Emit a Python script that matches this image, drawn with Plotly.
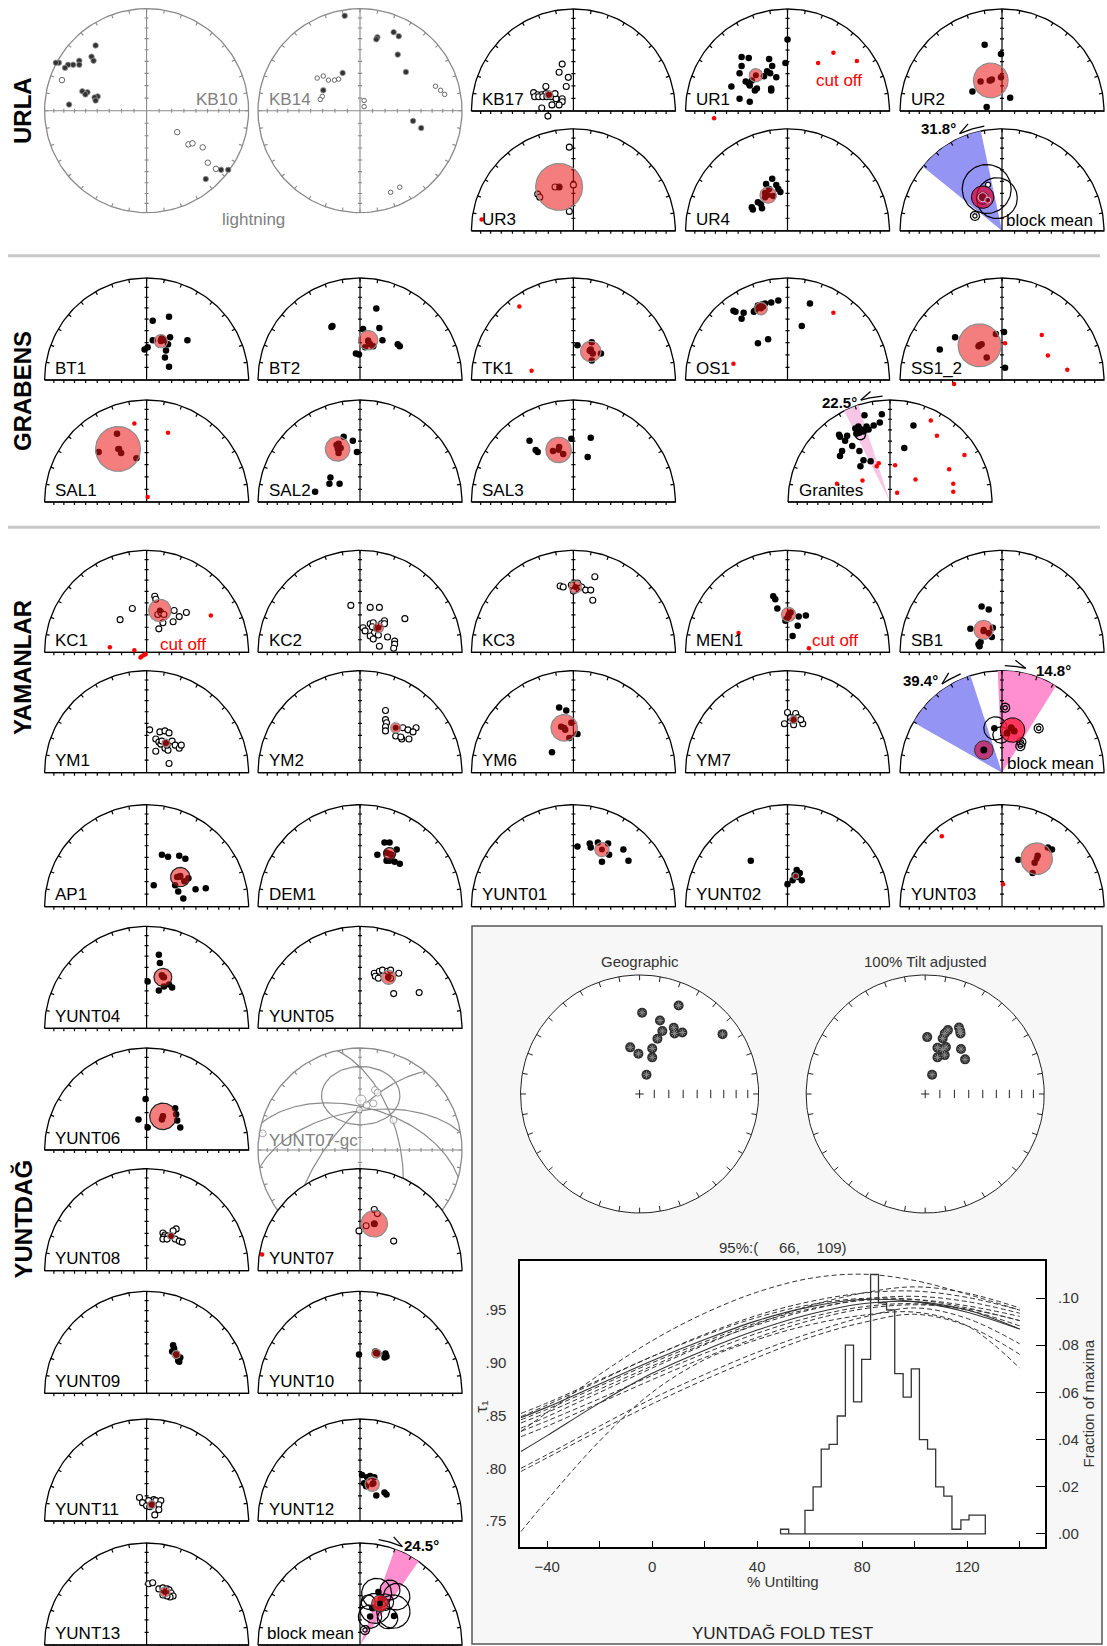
import numpy as np
import plotly.graph_objects as go

W, H = 1107, 1646
FONT = "Liberation Sans, Arial, Helvetica, sans-serif"

# ====================== DATA ======================
# positions on each equal-area net (u = east, v = north, net radius = 1)
# _f* filled (lower hemisphere), _o* open (upper), _r* rejected (red), _mean = (u, v, a95)

# ---------- URLA ----------
KB10_fu = [-0.50, -0.54, -0.52, -0.66, -0.66, -0.72, -0.77, -0.80, -0.86, -0.89, -0.63, -0.58, -0.60, -0.48, -0.51, -0.50, -0.76, 0.58, 0.73, 0.80]
KB10_fv = [0.64, 0.53, 0.49, 0.49, 0.45, 0.45, 0.45, 0.42, 0.47, 0.47, 0.19, 0.18, 0.16, 0.14, 0.13, 0.10, 0.06, -0.67, -0.58, -0.58]
KB10_ou = [-0.83, 0.30, 0.41, 0.45, 0.55, 0.60, 0.68]
KB10_ov = [0.30, -0.21, -0.33, -0.32, -0.36, -0.51, -0.57]
KB14_fu = [-0.15, 0.17, 0.16, 0.33, 0.38, 0.37, 0.45, -0.36, -0.17, 0.52, 0.60]
KB14_fv = [0.93, 0.72, 0.70, 0.77, 0.73, 0.55, 0.38, 0.20, 0.37, -0.10, -0.17]
KB14_ou = [-0.42, -0.36, -0.31, -0.25, -0.21, -0.37, -0.39, 0.04, 0.04, 0.74, 0.79, 0.83, 0.30, 0.39]
KB14_ov = [0.32, 0.34, 0.30, 0.30, 0.31, 0.14, 0.11, 0.10, 0.04, 0.24, 0.20, 0.16, -0.80, -0.75]

KB17_ou = [-0.11, -0.14, -0.05, -0.07, -0.27, -0.39, -0.35, -0.31, -0.27, -0.38, -0.34, -0.30, -0.26, -0.22, -0.17, -0.11, -0.11, -0.21, -0.31, -0.14, -0.25, -0.18]
KB17_ov = [0.46, 0.38, 0.33, 0.24, 0.24, 0.18, 0.16, 0.16, 0.17, 0.14, 0.14, 0.14, 0.14, 0.14, 0.12, 0.12, 0.09, 0.06, 0.03, 0.06, -0.05, 0.17]
KB17_mean = (-0.24, 0.16, 0.04)

UR1_fu = [0.00, -0.02, -0.45, -0.38, -0.18, -0.45, -0.15, -0.20, -0.17, -0.47, -0.11, -0.23, -0.35, -0.41, -0.38, -0.37, -0.55, -0.30, -0.32, -0.16, -0.16, -0.47, -0.37]
UR1_fv = [0.70, 0.47, 0.53, 0.52, 0.51, 0.44, 0.44, 0.39, 0.37, 0.37, 0.33, 0.34, 0.30, 0.29, 0.27, 0.25, 0.24, 0.22, 0.20, 0.22, 0.20, 0.12, 0.09]
UR1_ru = [0.45, 0.30, 0.68, -0.72]
UR1_rv = [0.57, 0.47, 0.49, -0.07]
UR1_mean = (-0.31, 0.35, 0.065)

UR2_fu = [-0.17, -0.01, -0.01, -0.21, -0.12, -0.10, -0.29, 0.08, -0.15]
UR2_fv = [0.65, 0.56, 0.33, 0.29, 0.30, 0.31, 0.19, 0.13, 0.04]
UR2_mean = (-0.11, 0.30, 0.17)

UR3_ou = [-0.04, 0.00, -0.14, -0.18, -0.35, -0.33, -0.04]
UR3_ov = [0.82, 0.45, 0.43, 0.43, 0.36, 0.33, 0.19]
UR3_ru = [-0.90]
UR3_rv = [0.11]
UR3_mean = (-0.14, 0.43, 0.23)

UR4_fu = [-0.15, -0.21, -0.11, -0.18, -0.09, -0.22, -0.07, -0.14, -0.22, -0.29, -0.26, -0.35, -0.34, -0.25]
UR4_fv = [0.51, 0.46, 0.45, 0.41, 0.41, 0.37, 0.38, 0.34, 0.33, 0.28, 0.26, 0.23, 0.21, 0.22]
UR4_mean = (-0.19, 0.35, 0.08)

URLA_rot = (-51.0, -12.0)
URLA_circ = [(-0.15, 0.41, 0.24), (-0.05, 0.32, 0.20)]
URLA_bull = [(-0.265, 0.146)]
URLA_mean = (-0.19, 0.33, 0.11)

# ---------- GRABENS ----------
BT1_fu = [0.22, 0.06, 0.23, 0.40, 0.06, 0.14, 0.15, 0.17, 0.21, 0.01, -0.02, 0.19, 0.18, 0.22]
BT1_fv = [0.62, 0.58, 0.42, 0.39, 0.39, 0.39, 0.41, 0.39, 0.35, 0.32, 0.30, 0.29, 0.22, 0.13]
BT1_mean = (0.14, 0.38, 0.065)
BT2_fu = [0.16, -0.28, -0.27, 0.03, 0.19, 0.22, 0.37, 0.39, -0.04, -0.01, 0.05, 0.08, 0.10, 0.13]
BT2_fv = [0.70, 0.52, 0.53, 0.50, 0.51, 0.39, 0.35, 0.33, 0.26, 0.25, 0.32, 0.38, 0.35, 0.33]
BT2_mean = (0.08, 0.39, 0.095)
TK1_fu = [0.04, 0.18, 0.16, 0.19, 0.27, 0.18, 0.17]
TK1_fv = [0.34, 0.37, 0.29, 0.26, 0.26, 0.19, 0.30]
TK1_ru = [-0.53, -0.41]
TK1_rv = [0.72, 0.09]
TK1_mean = (0.17, 0.28, 0.10)
OS1_fu = [-0.09, -0.16, -0.25, -0.27, -0.29, -0.30, -0.32, -0.33, -0.22, -0.24, -0.43, -0.45, -0.51, -0.53, -0.29, -0.19, 0.22, 0.14]
OS1_fv = [0.78, 0.76, 0.74, 0.72, 0.73, 0.70, 0.68, 0.67, 0.75, 0.72, 0.66, 0.60, 0.67, 0.68, 0.36, 0.40, 0.75, 0.53]
OS1_ru = [0.45, -0.53]
OS1_rv = [0.66, 0.16]
OS1_mean = (-0.26, 0.70, 0.062)
SS1_fu = [-0.46, -0.61, 0.02, -0.06, 0.03, -0.15, -0.22, -0.20, -0.23]
SS1_fv = [0.42, 0.30, 0.47, 0.45, 0.12, 0.22, 0.34, 0.35, 0.33]
SS1_ru = [0.03, 0.39, 0.45, 0.64, -0.47]
SS1_rv = [0.36, 0.44, 0.24, 0.10, -0.04]
SS1_mean = (-0.22, 0.34, 0.21)
SAL1_fu = [-0.29, -0.47, -0.27, -0.25, -0.10]
SAL1_fv = [0.67, 0.49, 0.52, 0.48, 0.43]
SAL1_ru = [-0.12, 0.21, 0.01]
SAL1_rv = [0.77, 0.68, 0.05]
SAL1_mean = (-0.28, 0.52, 0.22)
SAL2_fu = [-0.16, -0.07, -0.23, -0.21, -0.19, -0.21, -0.03, -0.30, -0.29, -0.20, -0.44]
SAL2_fv = [0.64, 0.60, 0.56, 0.57, 0.53, 0.48, 0.49, 0.18, 0.24, 0.18, 0.10]
SAL2_mean = (-0.22, 0.52, 0.12)
SAL3_fu = [-0.43, -0.37, -0.35, -0.02, 0.17, 0.14, -0.20, -0.10, -0.14]
SAL3_fv = [0.60, 0.51, 0.49, 0.62, 0.63, 0.44, 0.50, 0.47, 0.54]
SAL3_mean = (-0.145, 0.51, 0.125)
GRAN_fu = [-0.25, -0.08, -0.10, -0.16, 0.23, 0.14, -0.50, -0.49, -0.42, -0.44, -0.37, -0.47, -0.49, -0.30, -0.26, -0.19, -0.29, -0.34, -0.31, -0.28, -0.26, -0.23, -0.33, -0.21, -0.30, -0.25]
GRAN_fv = [0.85, 0.86, 0.78, 0.75, 0.75, 0.53, 0.66, 0.64, 0.65, 0.60, 0.55, 0.50, 0.45, 0.50, 0.41, 0.40, 0.35, 0.72, 0.74, 0.71, 0.69, 0.74, 0.67, 0.71, 0.68, 0.70]
GRAN_ru = [0.40, 0.46, 0.73, -0.11, -0.13, 0.05, -0.52, 0.07, 0.62, 0.62, 0.58, 0.25, -0.27]
GRAN_rv = [0.80, 0.65, 0.46, 0.38, 0.35, 0.36, 0.18, 0.09, 0.18, 0.10, 0.32, 0.22, 0.21]
GRAN_mean = (-0.29, 0.66, 0.05)
GRAN_rot = (-27.0, -18.0)

# ---------- YAMANLAR ----------
KC1_ou = [0.08, 0.09, -0.14, -0.26, 0.27, 0.32, 0.39, 0.26, 0.16, 0.12, 0.11, 0.14, 0.17]
KC1_ov = [0.55, 0.52, 0.43, 0.32, 0.41, 0.35, 0.39, 0.30, 0.29, 0.23, 0.37, 0.39, 0.37]
KC1_ru = [0.63, -0.36, -0.12, -0.05, -0.03, -0.01, -0.06]
KC1_rv = [0.36, 0.05, 0.02, -0.04, -0.03, -0.02, -0.05]
KC1_mean = (0.13, 0.41, 0.11)
KC2_ou = [-0.09, 0.10, 0.19, 0.44, 0.24, 0.21, 0.10, 0.13, 0.12, 0.03, 0.05, 0.14, 0.10, 0.13, 0.18, 0.27, 0.19, 0.34, 0.34, 0.33, 0.24]
KC2_ov = [0.46, 0.44, 0.44, 0.33, 0.31, 0.28, 0.28, 0.29, 0.25, 0.24, 0.21, 0.19, 0.16, 0.13, 0.17, 0.15, 0.06, 0.11, 0.08, 0.04, 0.28]
KC2_mean = (0.18, 0.24, 0.05)
KC3_ou = [-0.13, -0.10, -0.02, 0.02, 0.05, 0.08, 0.12, 0.17, 0.21, 0.19, 0.00, 0.04]
KC3_ov = [0.65, 0.64, 0.66, 0.62, 0.66, 0.64, 0.61, 0.61, 0.74, 0.51, 0.60, 0.68]
KC3_mean = (0.02, 0.64, 0.06)
MEN1_fu = [-0.14, -0.12, -0.10, 0.03, 0.01, -0.01, -0.02, 0.11, 0.18, 0.10, 0.05]
MEN1_fv = [0.55, 0.52, 0.43, 0.39, 0.35, 0.33, 0.31, 0.35, 0.36, 0.26, 0.16]
MEN1_ru = [-0.48, 0.21]
MEN1_rv = [0.19, 0.04]
MEN1_mean = (0.01, 0.37, 0.07)
SB1_fu = [-0.20, -0.13, -0.31, -0.09, -0.10, -0.18, -0.13, -0.21, -0.23, -0.22]
SB1_fv = [0.45, 0.42, 0.23, 0.24, 0.15, 0.21, 0.19, 0.10, 0.08, 0.06]
SB1_mean = (-0.18, 0.22, 0.094)
YM1_ou = [0.03, 0.13, 0.18, 0.22, 0.09, 0.12, 0.14, 0.25, 0.28, 0.32, 0.34, 0.09, 0.18, 0.21, 0.22, 0.15, 0.20]
YM1_ov = [0.42, 0.40, 0.41, 0.39, 0.33, 0.30, 0.28, 0.31, 0.27, 0.24, 0.27, 0.21, 0.24, 0.22, 0.09, 0.31, 0.27]
YM1_mean = (0.19, 0.29, 0.04)
YM2_ou = [0.25, 0.25, 0.26, 0.25, 0.25, 0.42, 0.47, 0.55, 0.52, 0.48, 0.41, 0.35, 0.40]
YM2_ov = [0.61, 0.52, 0.49, 0.45, 0.41, 0.44, 0.42, 0.44, 0.40, 0.33, 0.33, 0.36, 0.35]
YM2_mean = (0.35, 0.44, 0.05)
YM6_fu = [-0.14, -0.07, -0.02, 0.04, -0.04, -0.21, -0.12, -0.08]
YM6_fv = [0.64, 0.61, 0.49, 0.38, 0.34, 0.20, 0.45, 0.42]
YM6_mean = (-0.09, 0.44, 0.13)
YM7_ou = [0.00, 0.08, 0.10, -0.03, 0.06, 0.15, 0.13, 0.03]
YM7_ov = [0.59, 0.58, 0.54, 0.48, 0.47, 0.48, 0.52, 0.54]
YM7_mean = (0.06, 0.52, 0.04)
YAM_rotA = (-60.4, -18.0)
YAM_rotB = (-2.4, 31.9)
YAM_circ = [(-0.065, 0.435, 0.113), (-0.01, 0.37, 0.08)]
YAM_bull = [(0.031, 0.637), (0.36, 0.435), (0.18, 0.26), (0.19, 0.30)]
YAM_mean_a = (0.103, 0.418, 0.12)
YAM_mean_b = (-0.178, 0.222, 0.092)

# ---------- YUNTDAG ----------
AP1_fu = [0.15, 0.21, 0.32, 0.38, 0.07, 0.28, 0.31, 0.36, 0.48, 0.58, 0.30, 0.33, 0.37, 0.41]
AP1_fv = [0.51, 0.49, 0.50, 0.47, 0.21, 0.21, 0.15, 0.08, 0.17, 0.18, 0.29, 0.30, 0.25, 0.28]
AP1_mean = (0.33, 0.29, 0.095)
DEM1_fu = [0.24, 0.29, 0.17, 0.36, 0.26, 0.29, 0.34, 0.39, 0.26, 0.31]
DEM1_fv = [0.63, 0.63, 0.51, 0.56, 0.45, 0.45, 0.44, 0.42, 0.53, 0.51]
DEM1_mean = (0.29, 0.52, 0.06)
Y01_fu = [0.04, 0.16, 0.24, 0.34, 0.49, 0.54, 0.28, 0.35, 0.17]
Y01_fv = [0.59, 0.62, 0.63, 0.62, 0.56, 0.45, 0.44, 0.51, 0.58]
Y01_mean = (0.28, 0.56, 0.07)
Y02_fu = [-0.36, 0.09, 0.12, 0.07, 0.10, 0.14, 0.05, 0.00]
Y02_fv = [0.45, 0.36, 0.33, 0.31, 0.29, 0.26, 0.26, 0.22]
Y02_mean = (0.08, 0.30, 0.03)
Y03_fu = [0.49, 0.45, 0.16, 0.35, 0.32, 0.30]
Y03_fv = [0.56, 0.58, 0.46, 0.50, 0.43, 0.33]
Y03_ru = [-0.59, 0.01]
Y03_rv = [0.69, 0.22]
Y03_mean = (0.34, 0.47, 0.155)
Y04_fu = [0.12, 0.13, 0.01, 0.12, 0.17, 0.25, 0.22, 0.15, 0.17]
Y04_fv = [0.72, 0.64, 0.46, 0.37, 0.41, 0.40, 0.43, 0.52, 0.50]
Y04_mean = (0.16, 0.50, 0.088)
Y05_ou = [0.14, 0.19, 0.22, 0.27, 0.30, 0.38, 0.15, 0.18, 0.33, 0.58, 0.28, 0.30]
Y05_ov = [0.54, 0.56, 0.57, 0.56, 0.57, 0.54, 0.51, 0.49, 0.34, 0.35, 0.50, 0.49]
Y05_mean = (0.28, 0.50, 0.07)
Y06_fu = [-0.01, -0.08, 0.01, 0.28, 0.29, 0.30, 0.33, 0.16, 0.15]
Y06_fv = [0.50, 0.30, 0.22, 0.41, 0.35, 0.29, 0.22, 0.33, 0.30]
Y06_mean = (0.16, 0.33, 0.13)
GC_ou = [0.01, 0.065, 0.13, 0.147, 0.173, -0.007, 0.327, -0.954]
GC_ov = [0.49, 0.44, 0.457, 0.588, 0.562, 0.392, 0.294, 0.163]
GC_small = (0.007, 0.533, 0.384, 0.286)
GC_planes = [((-74.5, 0.0), (0.0, 54.6)), ((39.7, 0.0), (0.0, 56.5)),
             ((-13.0, 0.0), (48.0, 54.4)), ((80.0, 0.0), (20.0, 55.0))]
Y07_ou = [0.14, 0.17, 0.06, 0.14, -0.01, 0.33]
Y07_ov = [0.60, 0.56, 0.44, 0.46, 0.39, 0.29]
Y07_ru = [-0.96]
Y07_rv = [0.16]
Y07_mean = (0.14, 0.46, 0.13)
Y08_ou = [0.29, 0.26, 0.16, 0.18, 0.17, 0.16, 0.21, 0.28, 0.32, 0.35, 0.20]
Y08_ov = [0.41, 0.39, 0.37, 0.35, 0.33, 0.31, 0.34, 0.31, 0.29, 0.28, 0.31]
Y08_mean = (0.24, 0.34, 0.035)
Y09_fu = [0.26, 0.27, 0.25, 0.29, 0.30, 0.33, 0.31, 0.32]
Y09_fv = [0.47, 0.44, 0.41, 0.39, 0.36, 0.35, 0.32, 0.31]
Y09_mean = (0.29, 0.38, 0.04)
Y10_fu = [-0.01, 0.15, 0.18, 0.25, 0.26, 0.24, 0.16]
Y10_fv = [0.38, 0.41, 0.39, 0.39, 0.36, 0.35, 0.40]
Y10_mean = (0.16, 0.39, 0.045)
Y11_ou = [-0.07, -0.04, 0.00, 0.07, 0.09, 0.14, 0.12, 0.12, 0.08, 0.02, 0.03]
Y11_ov = [0.23, 0.18, 0.15, 0.21, 0.20, 0.20, 0.16, 0.11, 0.06, 0.20, 0.14]
Y11_mean = (0.05, 0.16, 0.04)
Y12_fu = [0.02, 0.07, 0.10, 0.14, 0.04, 0.06, 0.16, 0.24, 0.26, 0.13]
Y12_fv = [0.45, 0.43, 0.44, 0.43, 0.37, 0.34, 0.25, 0.28, 0.26, 0.37]
Y12_mean = (0.12, 0.36, 0.07)
Y13_ou = [0.02, 0.06, 0.12, 0.16, 0.20, 0.22, 0.24, 0.26, 0.23, 0.20, 0.16]
Y13_ov = [0.60, 0.61, 0.55, 0.56, 0.55, 0.54, 0.51, 0.48, 0.47, 0.48, 0.49]
Y13_mean = (0.18, 0.52, 0.05)
YUNT_rot = (20.0, 35.0)
YUNT_circ = [(0.163, 0.507, 0.147), (0.147, 0.359, 0.147), (0.359, 0.474, 0.13), (0.327, 0.327, 0.163),
             (0.098, 0.278, 0.114), (0.294, 0.539, 0.098), (0.25, 0.42, 0.08), (0.08, 0.42, 0.07), (0.27, 0.26, 0.10)]
YUNT_dots_u = [0.333, 0.22, 0.12, 0.10, 0.18]
YUNT_dots_v = [0.284, 0.45, 0.36, 0.28, 0.52]
YUNT_bull = [(0.049, 0.147)]
YUNT_mean = (0.196, 0.408, 0.082)

# ---------- FOLD TEST ----------
GEO_u = [0.021, 0.328, 0.171, 0.191, 0.287, 0.294, 0.359, 0.697, 0.150, -0.079, 0.106, -0.010, 0.106, 0.058]
GEO_v = [0.683, 0.744, 0.618, 0.529, 0.557, 0.509, 0.517, 0.503, 0.464, 0.392, 0.383, 0.338, 0.308, 0.162]
TILT_u = [0.017, 0.147, 0.164, 0.191, 0.284, 0.297, 0.294, 0.103, 0.144, 0.174, 0.103, 0.164, 0.301, 0.335, 0.058]
TILT_v = [0.478, 0.467, 0.509, 0.537, 0.559, 0.509, 0.529, 0.389, 0.375, 0.394, 0.308, 0.327, 0.378, 0.291, 0.162]
UNTILT = [-50, -40, -20, 0, 20, 40, 60, 80, 100, 120, 140]
TAU_SOLID = [
    [.848, .858, .880, .902, .922, .940, .953, .960, .958, .948, .932],
    [.816, .831, .862, .890, .912, .931, .946, .956, .958, .950, .932],
]
TAU_DASH = [
    [.835, .853, .889, .921, .947, .967, .980, .984, .978, .965, .950],
    [.849, .860, .883, .906, .926, .943, .955, .961, .960, .952, .940],
    [.846, .856, .878, .900, .920, .938, .951, .959, .960, .954, .944],
    [.852, .862, .884, .906, .927, .945, .958, .966, .968, .962, .950],
    [.843, .853, .875, .897, .918, .936, .950, .960, .963, .958, .947],
    [.838, .849, .872, .895, .917, .937, .954, .966, .972, .966, .952],
    [.835, .845, .866, .888, .909, .928, .943, .953, .956, .950, .935],
    [.830, .840, .862, .884, .905, .924, .940, .951, .955, .951, .940],
    [.800, .813, .840, .866, .889, .910, .928, .943, .952, .942, .918],
    [.797, .810, .836, .861, .884, .905, .924, .938, .946, .935, .908],
    [.740, .770, .826, .872, .903, .922, .936, .945, .948, .935, .895],
]
HIST_EDGES = [48.9, 52.0, 55.1, 58.2, 61.3, 64.4, 67.4, 70.5, 73.6, 76.7, 79.8, 83.2, 86.2,
              89.3, 92.4, 95.6, 98.7, 101.8, 104.9, 108.0, 111.1, 114.2, 117.6, 120.7, 123.8, 126.9]
HIST_FRAC = [0.002, 0, 0, 0.010, 0.020, 0.036, 0.038, 0.050, 0.080, 0.056, 0.074, 0.110, 0.098,
             0.095, 0.068, 0.058, 0.070, 0.040, 0.036, 0.020, 0.016, 0.002, 0.006, 0.008, 0.008]
X_TICKS = [-40, 0, 40, 80, 120]
X_TICKTEXT = ['\u221240', '0', '40', '80', '120']
TAU_TICKS = [0.75, 0.80, 0.85, 0.90, 0.95]
TAU_TICKTEXT = ['.75', '.80', '.85', '.90', '.95']
FRAC_TICKS = [0.0, 0.02, 0.04, 0.06, 0.08, 0.10]
FRAC_TICKTEXT = ['.00', '.02', '.04', '.06', '.08', '.10']

# ====================== LAYOUT GEOMETRY (pixels) ======================
R = 102
COL = [146.6, 360.0, 573.4, 787.5, 1002.0]
ROW_URLA = [111.0, 230.8]
ROW_GRAB = [380.0, 502.0]
ROW_YAM = [652.3, 772.7]
ROW_YUNT = [906.7, 1028.3, 1150.0, 1270.7, 1393.3, 1521.0, 1645.0]
EA = [float(np.sqrt(1 - np.sin(np.radians(i)))) for i in range(10, 90, 10)]

fig = go.Figure()
ANN = []
SHAPES = []
_n = [0]


def add_axes(cx, cy, RR, up=1.15, down=0.2, side=1.15):
    _n[0] += 1
    n = _n[0]
    s = '' if n == 1 else str(n)
    px0 = max(0.0, cx - side * RR); px1 = min(W, cx + side * RR)
    py0 = max(0.0, cy - up * RR); py1 = min(H, cy + down * RR)
    fig.layout['xaxis' + s] = dict(domain=[px0 / W, px1 / W], range=[(px0 - cx) / RR, (px1 - cx) / RR],
                                   visible=False, fixedrange=True, anchor='y' + s)
    fig.layout['yaxis' + s] = dict(domain=[1 - py1 / H, 1 - py0 / H], range=[-(py1 - cy) / RR, (cy - py0) / RR],
                                   visible=False, fixedrange=True, anchor='x' + s)
    return 'x' + s, 'y' + s


def sc(xa, ya, x, y, **kw):
    fig.add_trace(go.Scatter(x=list(x), y=list(y), xaxis=xa, yaxis=ya, showlegend=False,
                             hoverinfo='skip', cliponaxis=False, **kw))


def text(xa, ya, x, y, s, size=17, color='black', xanchor='left', yanchor='middle', angle=0):
    ANN.append(dict(xref=xa, yref=ya, x=x, y=y, text=s, showarrow=False, xanchor=xanchor,
                    yanchor=yanchor, textangle=angle, font=dict(family=FONT, size=size, color=color)))


def ptext(px, py, s, **kw):
    text('paper', 'paper', px / W, 1 - py / H, s, **kw)


def wedge(xa, ya, a0, a1, color):
    t = np.radians(np.linspace(a0, a1, 40))
    sc(xa, ya, [0] + list(np.sin(t)) + [0], [0] + list(np.cos(t)) + [0], mode='lines',
       fill='toself', fillcolor=color, line=dict(width=0))


def semi_frame(xa, ya, wedges=()):
    t = np.radians(np.linspace(-90, 90, 121))
    sc(xa, ya, list(np.sin(t)) + [-1.0], list(np.cos(t)) + [0.0], mode='lines', fill='toself',
       fillcolor='white', line=dict(color='black', width=1.3))
    for w in wedges:
        wedge(xa, ya, *w)
    tx, ty = [0, 0, None, -1, 1, None], [0, 1, None, 0, 0, None]
    for a in range(-80, 90, 10):
        ar = np.radians(a)
        tx += [np.sin(ar), 0.965 * np.sin(ar), None]; ty += [np.cos(ar), 0.965 * np.cos(ar), None]
    for r in EA:
        for s in (-1, 1):
            tx += [s * r, s * r, None]; ty += [0, -0.03, None]
        tx += [-0.02, 0.02, None]; ty += [r, r, None]
    sc(xa, ya, tx, ty, mode='lines', line=dict(color='black', width=1.2))


def full_frame(xa, ya, color):
    t = np.radians(np.linspace(0, 360, 181))
    sc(xa, ya, np.sin(t), np.cos(t), mode='lines', fill='toself', fillcolor='white',
       line=dict(color=color, width=1.3))
    tx, ty = [-1, 1, None, 0, 0, None], [0, 0, None, -1, 1, None]
    for a in range(0, 360, 10):
        ar = np.radians(a)
        tx += [np.sin(ar), 0.965 * np.sin(ar), None]; ty += [np.cos(ar), 0.965 * np.cos(ar), None]
    for r in EA:
        for s in (-1, 1):
            tx += [s * r, s * r, None]; ty += [-0.02, 0.02, None]
            tx += [-0.02, 0.02, None]; ty += [s * r, s * r, None]
    sc(xa, ya, tx, ty, mode='lines', line=dict(color=color, width=1.1))


def pts(xa, ya, u, v, kind, size=None):
    if kind == 'f':
        m = dict(symbol='circle', size=size or 6.5, color='black', line=dict(width=0))
    elif kind == 'o':
        m = dict(symbol='circle', size=size or 6, color='white', line=dict(width=1.1, color='black'))
    else:
        m = dict(symbol='circle', size=size or 4.5, color='#ff0000', line=dict(width=0))
    sc(xa, ya, u, v, mode='markers', marker=m)


def ring(u, v, rx, ry=None, n=72):
    t = np.linspace(0, 2 * np.pi, n)
    return u + rx * np.cos(t), v + (ry if ry is not None else rx) * np.sin(t)


def a95(xa, ya, mean, line='#8c8c8c', fill='rgba(235,20,20,0.55)', lw=1.2):
    x, y = ring(*mean)
    sc(xa, ya, x, y, mode='lines', fill='toself', fillcolor=fill, line=dict(color=line, width=lw))


def open_ring(xa, ya, u, v, r, color='black', lw=1.2):
    x, y = ring(u, v, r)
    sc(xa, ya, x, y, mode='lines', line=dict(color=color, width=lw))


def site(cx, by, label, f=None, o=None, red=None, mean=None, mline='#8c8c8c', cut=None):
    xa, ya = add_axes(cx, by, R)
    semi_frame(xa, ya)
    if f:
        pts(xa, ya, f[0], f[1], 'f')
    if o:
        pts(xa, ya, o[0], o[1], 'o')
    if mean:
        pts(xa, ya, [mean[0]], [mean[1]], 'f', size=6)
        a95(xa, ya, mean, line=mline)
    if red:
        pts(xa, ya, red[0], red[1], 'r')
    text(xa, ya, -0.915, 0.115, label)
    if cut:
        text(xa, ya, cut[0], cut[1], 'cut off', color='#ff0000', xanchor='center')
    return xa, ya


def arc_arrow(xa, ya, r, a0, a1):
    t = np.radians(np.linspace(a0, a1, 20))
    x = list(r * np.sin(t)); y = list(r * np.cos(t))
    d = 1 if a1 > a0 else -1
    b = np.radians(a1 - d * 6)
    x += [None, r * np.sin(np.radians(a1)), (r + 0.06) * np.sin(b)]
    y += [None, r * np.cos(np.radians(a1)), (r + 0.06) * np.cos(b)]
    sc(xa, ya, x, y, mode='lines', line=dict(color='black', width=1.3))


def bull(xa, ya, u, v):
    open_ring(xa, ya, u, v, 0.045)
    open_ring(xa, ya, u, v, 0.022)


# ====================== URLA ======================
for (cx, name, fu, fv, ou, ov, side) in [(COL[0], 'KB10', KB10_fu, KB10_fv, KB10_ou, KB10_ov, 'r'),
                                         (COL[1], 'KB14', KB14_fu, KB14_fv, KB14_ou, KB14_ov, 'l')]:
    xa, ya = add_axes(cx, 110.7, R, up=1.15, down=1.15, side=1.08)
    full_frame(xa, ya, '#8a8a8a')
    sc(xa, ya, ou, ov, mode='markers', marker=dict(symbol='circle', size=5.5 if name == 'KB10' else 4.5,
                                                      color='white', line=dict(width=1, color='#666')))
    sc(xa, ya, fu, fv, mode='markers', marker=dict(symbol='circle', size=5.5, color='#333',
                                                      line=dict(width=0.8, color='#999')))
    if side == 'r':
        text(xa, ya, 0.915, 0.105, name, color='#808080', xanchor='right')
        text(xa, ya, 1.045, -1.07, 'lightning', color='#808080', xanchor='center')
    else:
        text(xa, ya, -0.915, 0.105, name, color='#808080')

site(COL[2], ROW_URLA[0], 'KB17', o=(KB17_ou, KB17_ov), mean=KB17_mean)
site(COL[3], ROW_URLA[0], 'UR1', f=(UR1_fu, UR1_fv), red=(UR1_ru, UR1_rv), mean=UR1_mean, cut=(0.50, 0.30))
site(COL[4], ROW_URLA[0], 'UR2', f=(UR2_fu, UR2_fv), mean=UR2_mean)
site(COL[2], ROW_URLA[1], 'UR3', o=(UR3_ou, UR3_ov), red=(UR3_ru, UR3_rv), mean=UR3_mean)
site(COL[3], ROW_URLA[1], 'UR4', f=(UR4_fu, UR4_fv), mean=UR4_mean)

xa, ya = add_axes(COL[4], ROW_URLA[1], R, up=1.2)
semi_frame(xa, ya, wedges=[(URLA_rot[0], URLA_rot[1], '#9494f5')])
for c in URLA_circ:
    open_ring(xa, ya, *c)
for b in URLA_bull:
    bull(xa, ya, *b)
pts(xa, ya, [-0.137], [0.451], 'o', size=5)
a95(xa, ya, URLA_mean, line='black', fill='rgba(215,10,60,0.75)', lw=1)
open_ring(xa, ya, URLA_mean[0], URLA_mean[1] - 0.01, 0.06, color='#700018', lw=1)
sc(xa, ya, [URLA_mean[0], URLA_mean[0] + 0.05], [URLA_mean[1], URLA_mean[1] - 0.03], mode='markers',
   marker=dict(size=[9, 6], color='#6a0010'))
arc_arrow(xa, ya, 1.04, -9.6, -23.6)
text(xa, ya, -0.62, 1.0, '<b>31.8\u00b0</b>', size=15, xanchor='center')
text(xa, ya, 0.915, 0.10, 'block mean', xanchor='right')

# ====================== GRABENS ======================
site(COL[0], ROW_GRAB[0], 'BT1', f=(BT1_fu, BT1_fv), mean=BT1_mean)
site(COL[1], ROW_GRAB[0], 'BT2', f=(BT2_fu, BT2_fv), mean=BT2_mean)
site(COL[2], ROW_GRAB[0], 'TK1', f=(TK1_fu, TK1_fv), red=(TK1_ru, TK1_rv), mean=TK1_mean)
site(COL[3], ROW_GRAB[0], 'OS1', f=(OS1_fu, OS1_fv), red=(OS1_ru, OS1_rv), mean=OS1_mean)
site(COL[4], ROW_GRAB[0], 'SS1_2', f=(SS1_fu, SS1_fv), red=(SS1_ru, SS1_rv), mean=SS1_mean)
site(COL[0], ROW_GRAB[1], 'SAL1', f=(SAL1_fu, SAL1_fv), red=(SAL1_ru, SAL1_rv), mean=SAL1_mean)
site(COL[1], ROW_GRAB[1], 'SAL2', f=(SAL2_fu, SAL2_fv), mean=SAL2_mean)
site(COL[2], ROW_GRAB[1], 'SAL3', f=(SAL3_fu, SAL3_fv), mean=SAL3_mean)

xa, ya = add_axes(890.0, ROW_GRAB[1], R, up=1.2)
semi_frame(xa, ya, wedges=[(GRAN_rot[0], GRAN_rot[1], '#f7c6e6')])
pts(xa, ya, GRAN_fu, GRAN_fv, 'f')
open_ring(xa, ya, *GRAN_mean, lw=1.4)
pts(xa, ya, GRAN_ru, GRAN_rv, 'r')
arc_arrow(xa, ya, 1.04, -4.0, -16.0)
text(xa, ya, -0.5, 0.975, '<b>22.5\u00b0</b>', size=15, xanchor='center')
text(xa, ya, -0.915, 0.115, 'Granites')

# ====================== YAMANLAR ======================
site(COL[0], ROW_YAM[0], 'KC1', o=(KC1_ou, KC1_ov), red=(KC1_ru, KC1_rv), mean=KC1_mean, cut=(0.36, 0.08))
site(COL[1], ROW_YAM[0], 'KC2', o=(KC2_ou, KC2_ov), mean=KC2_mean)
site(COL[2], ROW_YAM[0], 'KC3', o=(KC3_ou, KC3_ov), mean=KC3_mean)
site(COL[3], ROW_YAM[0], 'MEN1', f=(MEN1_fu, MEN1_fv), red=(MEN1_ru, MEN1_rv), mean=MEN1_mean, cut=(0.47, 0.12))
site(COL[4], ROW_YAM[0], 'SB1', f=(SB1_fu, SB1_fv), mean=SB1_mean)
site(COL[0], ROW_YAM[1], 'YM1', o=(YM1_ou, YM1_ov), mean=YM1_mean)
site(COL[1], ROW_YAM[1], 'YM2', o=(YM2_ou, YM2_ov), mean=YM2_mean)
site(COL[2], ROW_YAM[1], 'YM6', f=(YM6_fu, YM6_fv), mean=YM6_mean)
site(COL[3], ROW_YAM[1], 'YM7', o=(YM7_ou, YM7_ov), mean=YM7_mean)

xa, ya = add_axes(COL[4], ROW_YAM[1], R, up=1.2)
semi_frame(xa, ya, wedges=[(YAM_rotA[0], YAM_rotA[1], '#9494f5'), (YAM_rotB[0], YAM_rotB[1], '#ff8fcf')])
for c in YAM_circ:
    open_ring(xa, ya, *c)
for b in YAM_bull:
    bull(xa, ya, *b)
pts(xa, ya, [-0.075], [0.435], 'f')
a95(xa, ya, YAM_mean_b, line='#333', fill='rgba(205,20,70,0.7)', lw=1)
pts(xa, ya, [YAM_mean_b[0]], [YAM_mean_b[1]], 'f', size=7)
a95(xa, ya, YAM_mean_a, line='black', fill='rgba(255,30,60,0.78)', lw=1)
sc(xa, ya, [0.12, 0.09, 0.05], [0.41, 0.44, 0.39], mode='markers', marker=dict(size=7, color='#8b0000'))
arc_arrow(xa, ya, 1.05, -22.7, -34.1)
arc_arrow(xa, ya, 1.05, 1.5, 12.8)
text(xa, ya, -0.8, 0.9, '<b>39.4\u00b0</b>', size=15, xanchor='center')
text(xa, ya, 0.5, 1.0, '<b>14.8\u00b0</b>', size=15, xanchor='center')
text(xa, ya, 0.925, 0.09, 'block mean', xanchor='right')

# ====================== YUNTDAG ======================
site(COL[0], ROW_YUNT[0], 'AP1', f=(AP1_fu, AP1_fv), mean=AP1_mean, mline='#222')
site(COL[1], ROW_YUNT[0], 'DEM1', f=(DEM1_fu, DEM1_fv), mean=DEM1_mean, mline='#222')
site(COL[2], ROW_YUNT[0], 'YUNT01', f=(Y01_fu, Y01_fv), mean=Y01_mean)
site(COL[3], ROW_YUNT[0], 'YUNT02', f=(Y02_fu, Y02_fv), mean=Y02_mean)
site(COL[4], ROW_YUNT[0], 'YUNT03', f=(Y03_fu, Y03_fv), red=(Y03_ru, Y03_rv), mean=Y03_mean)
site(COL[0], ROW_YUNT[1], 'YUNT04', f=(Y04_fu, Y04_fv), mean=Y04_mean, mline='#222')
site(COL[1], ROW_YUNT[1], 'YUNT05', o=(Y05_ou, Y05_ov), mean=Y05_mean)
site(COL[0], ROW_YUNT[2], 'YUNT06', f=(Y06_fu, Y06_fv), mean=Y06_mean, mline='#222')

# great-circle panel
xa, ya = add_axes(COL[1], ROW_YUNT[2], R, up=1.15, down=1.15, side=1.08)
full_frame(xa, ya, '#8a8a8a')


def dvec(d, i):
    d, i = np.radians(d), np.radians(i)
    return np.array([np.cos(i) * np.cos(d), np.cos(i) * np.sin(d), np.sin(i)])


for p1, p2 in GC_planes:
    nrm = np.cross(dvec(*p1), dvec(*p2)); nrm /= np.linalg.norm(nrm)
    h = np.cross(nrm, [0, 0, 1.0]); h /= np.linalg.norm(h)
    w = np.cross(nrm, h)
    if w[2] < 0:
        w = -w
    s = np.linspace(0, np.pi, 121)
    vec = np.outer(np.cos(s), h) + np.outer(np.sin(s), w)
    inc = np.arcsin(np.clip(vec[:, 2], -1, 1)); dec = np.arctan2(vec[:, 1], vec[:, 0])
    rr = np.sqrt(np.clip(1 - np.sin(inc), 0, None))
    sc(xa, ya, rr * np.sin(dec), rr * np.cos(dec), mode='lines', line=dict(color='#8a8a8a', width=1.2))
gx, gy = ring(GC_small[0], GC_small[1], GC_small[2], GC_small[3])
sc(xa, ya, gx, gy, mode='lines', line=dict(color='#8a8a8a', width=1.2))
sc(xa, ya, GC_ou, GC_ov, mode='markers',
   marker=dict(symbol='circle', size=[10, 7, 7, 7, 7, 6, 7, 7], color='white', line=dict(width=1, color='#808080')))
text(xa, ya, -0.915, 0.098, 'YUNT07-gc', color='#808080')

site(COL[0], ROW_YUNT[3], 'YUNT08', o=(Y08_ou, Y08_ov), mean=Y08_mean)
site(COL[1], ROW_YUNT[3], 'YUNT07', o=(Y07_ou, Y07_ov), red=(Y07_ru, Y07_rv), mean=Y07_mean)
site(COL[0], ROW_YUNT[4], 'YUNT09', f=(Y09_fu, Y09_fv), mean=Y09_mean)
site(COL[1], ROW_YUNT[4], 'YUNT10', f=(Y10_fu, Y10_fv), mean=Y10_mean)
site(COL[0], ROW_YUNT[5], 'YUNT11', o=(Y11_ou, Y11_ov), mean=Y11_mean)
site(COL[1], ROW_YUNT[5], 'YUNT12', f=(Y12_fu, Y12_fv), mean=Y12_mean)
site(COL[0], ROW_YUNT[6], 'YUNT13', o=(Y13_ou, Y13_ov), mean=Y13_mean)

xa, ya = add_axes(COL[1], ROW_YUNT[6], R, up=1.2)
semi_frame(xa, ya, wedges=[(YUNT_rot[0], YUNT_rot[1], '#ff8fcf')])
for c in YUNT_circ:
    open_ring(xa, ya, *c)
pts(xa, ya, YUNT_dots_u, YUNT_dots_v, 'f')
for b in YUNT_bull:
    bull(xa, ya, *b)
a95(xa, ya, YUNT_mean, line='#333', fill='rgba(230,30,40,0.8)', lw=1)
pts(xa, ya, [YUNT_mean[0]], [YUNT_mean[1]], 'f', size=6)
arc_arrow(xa, ya, 1.05, 10.0, 23.3)
text(xa, ya, 0.6, 0.98, '<b>24.5\u00b0</b>', size=15, xanchor='center')
text(xa, ya, -0.93, 0.11, 'block mean')

# ====================== FOLD TEST ======================
SHAPES.append(dict(type='rect', xref='paper', yref='paper', x0=472 / W, x1=1102 / W, y0=1 - 1644 / H,
                   y1=1 - 926 / H, fillcolor='#f7f7f7', line=dict(color='#555', width=1.5), layer='below'))


def ft_net(cx, title, u, v):
    xa, ya = add_axes(cx, 1094.0, 119, up=1.1, down=1.1, side=1.1)
    t = np.radians(np.linspace(0, 360, 181))
    sc(xa, ya, np.sin(t), np.cos(t), mode='lines', fill='toself', fillcolor='white',
       line=dict(color='#222', width=1))
    tx, ty = [-0.035, 0.035, None, 0, 0, None], [0, 0, None, -0.035, 0.035, None]
    for a in range(0, 360, 10):
        ar = np.radians(a)
        tx += [np.sin(ar), 0.955 * np.sin(ar), None]; ty += [np.cos(ar), 0.955 * np.cos(ar), None]
    for r in EA:
        tx += [r, r, None]; ty += [-0.035, 0.035, None]
    sc(xa, ya, tx, ty, mode='lines', line=dict(color='#222', width=1))
    sc(xa, ya, u, v, mode='markers', marker=dict(symbol='circle', size=10, color='#2e2e2e', line=dict(width=0)))
    sc(xa, ya, u, v, mode='markers', marker=dict(symbol='asterisk-open', size=6, color='#8a8a8a',
                                                 line=dict(width=1, color='#8a8a8a')))
    ptext(cx, 961.7, title, size=15, color='#333', xanchor='center')


ft_net(639.6, 'Geographic', GEO_u, GEO_v)
ft_net(925.2, '100% Tilt adjusted', TILT_u, TILT_v)

_n[0] += 1
k = str(_n[0]); k2 = str(_n[0] + 1)
_n[0] += 1
tickfont = dict(family=FONT, size=15, color='#333')
fig.layout['xaxis' + k] = dict(domain=[520.4 / W, 1044.9 / W], range=[-50.2, 149.6], anchor='y' + k,
                               showline=True, linecolor='black', linewidth=2, mirror=True, ticks='inside',
                               ticklen=6, tickwidth=1, tickcolor='black', tickvals=X_TICKS, ticktext=X_TICKTEXT,
                               minor=dict(ticks='inside', ticklen=6, tickwidth=1, tickcolor='black',
                                          tick0=-20, dtick=40, showgrid=False),
                               tickfont=tickfont, showgrid=False, zeroline=False, fixedrange=True,
                               ticklabelstandoff=5)
fig.layout['yaxis' + k] = dict(domain=[1 - 1546.7 / H, 1 - 1261 / H], range=[0.7257, 0.9965], anchor='x' + k,
                               showline=True, linecolor='black', linewidth=2, mirror=True, ticks='',
                               tickvals=TAU_TICKS, ticktext=TAU_TICKTEXT, tickfont=tickfont, showgrid=False,
                               zeroline=False, fixedrange=True, ticklabelstandoff=9)
fig.layout['yaxis' + k2] = dict(overlaying='y' + k, side='right', anchor='x' + k, range=[-0.0054, 0.1157],
                                ticks='inside', ticklen=9, tickwidth=1, tickcolor='black', tickvals=FRAC_TICKS,
                                ticktext=FRAC_TICKTEXT, tickfont=tickfont, showgrid=False, zeroline=False,
                                showline=False, fixedrange=True, ticklabelstandoff=12)
SHAPES.append(dict(type='rect', xref='x' + k + ' domain', yref='y' + k + ' domain', x0=0, x1=1, y0=0, y1=1,
                   fillcolor='white', line=dict(width=0), layer='below'))
for curve in TAU_DASH:
    sc('x' + k, 'y' + k, UNTILT, curve, mode='lines', line=dict(color='#333', width=1, dash='5px,3px', shape='spline'))
for curve in TAU_SOLID:
    sc('x' + k, 'y' + k, UNTILT, curve, mode='lines', line=dict(color='#333', width=1.1, shape='spline'))
hx, hy = [HIST_EDGES[0]], [0.0]
for i, f in enumerate(HIST_FRAC):
    hx += [HIST_EDGES[i], HIST_EDGES[i + 1]]; hy += [f, f]
hx += [HIST_EDGES[-1], HIST_EDGES[0]]; hy += [0.0, 0.0]
sc('x' + k, 'y' + k2, hx, hy, mode='lines', line=dict(color='#333', width=1.3))

ptext(782.8, 1247.7, '95%:(\u00a0\u00a0\u00a0\u00a0\u00a066,\u00a0\u00a0\u00a0\u00a0109)', size=15, color='#333', xanchor='center')
ptext(782.8, 1581, '% Untilting', size=15, color='#333', xanchor='center')
ptext(782.8, 1633, 'YUNTDA\u011e FOLD TEST', size=17, color='#222', xanchor='center')
ptext(482, 1406.7, '\u03c4\u2081', size=17, color='#333', xanchor='center', angle=-90)
ptext(1087.5, 1404, 'Fraction of maxima', size=15, color='#333', xanchor='center', angle=-90)

# ====================== SECTION LABELS & SEPARATORS ======================
for py in (255.7, 527.3):
    SHAPES.append(dict(type='line', xref='paper', yref='paper', x0=8 / W, x1=1100 / W, y0=1 - py / H,
                       y1=1 - py / H, line=dict(color='#c8c8c8', width=3)))
for lab, py in (('URLA', 110.5), ('GRABENS', 391.5), ('YAMANLAR', 667.5), ('YUNTDA\u011e', 1219.0)):
    ptext(22.5, py, '<b>' + lab + '</b>', size=24, xanchor='center', angle=-90)

fig.update_layout(width=W, height=H, margin=dict(l=0, r=0, t=0, b=0), paper_bgcolor='white',
                  plot_bgcolor='rgba(0,0,0,0)', showlegend=False, annotations=ANN, shapes=SHAPES,
                  font=dict(family=FONT))
fig.write_html("out.html", include_plotlyjs=True, full_html=True, config={'staticPlot': True},
               post_script="document.body.style.margin='0';document.body.style.overflow='hidden';")
